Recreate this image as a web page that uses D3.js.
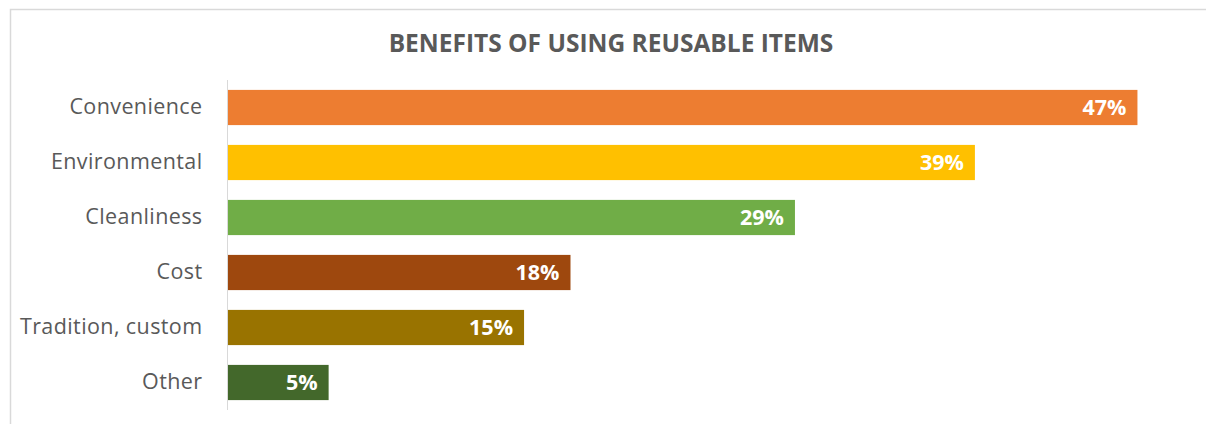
<!DOCTYPE html>
<html>
<head>
<meta charset="utf-8">
<script src="https://cdn.jsdelivr.net/npm/d3@7"></script>
<style>
  html, body { margin: 0; padding: 0; background: #fff; }
  svg { display: block; }
</style>
</head>
<body>
<svg id="chart" width="1206" height="424"></svg>
<script>
const title = "BENEFITS OF USING REUSABLE ITEMS";
const categories = ["Convenience", "Environmental", "Cleanliness", "Cost", "Tradition, custom", "Other"];
const values = [47.0, 38.6, 29.3, 17.7, 15.3, 5.2];
const colors = ["#ED7D31", "#FFC000", "#70AD47", "#9E480E", "#997300", "#43682B"];

const svg = d3.select("#chart");
const plot = { left: 228, right: 1195.5, top: 80, bottom: 410 };

// chart border
svg.append("rect")
  .attr("x", 10.5).attr("y", 9.5)
  .attr("width", 1220).attr("height", 440)
  .attr("fill", "#fff")
  .attr("stroke", "#D9D9D9").attr("stroke-width", 1.5);

const x = d3.scaleLinear().domain([0, 50]).range([plot.left, plot.right]);
const y = d3.scaleBand().domain(categories).range([plot.top, plot.bottom])
  .paddingInner(0.36).paddingOuter(0.18);

// title
svg.append("text")
  .attr("x", 611).attr("y", 52)
  .attr("text-anchor", "middle")
  .attr("font-family", "'Open Sans', sans-serif")
  .attr("font-weight", "bold")
  .attr("font-size", 24.5)
  .attr("fill", "#595959")
  .text(title);

// bars
const data = categories.map((c, i) => ({ c, v: values[i], col: colors[i] }));
svg.append("g").selectAll("rect").data(data).join("rect")
  .attr("x", x(0))
  .attr("y", d => y(d.c))
  .attr("width", d => x(d.v) - x(0))
  .attr("height", y.bandwidth())
  .attr("fill", d => d.col);

// value labels
svg.append("g").selectAll("text").data(data).join("text")
  .attr("x", d => x(d.v) - 11)
  .attr("y", d => y(d.c) + y.bandwidth() / 2)
  .attr("dy", "0.36em")
  .attr("text-anchor", "end")
  .attr("font-family", "'Open Sans', sans-serif")
  .attr("font-weight", "bold")
  .attr("font-size", 21.5)
  .attr("fill", "#fff")
  .text(d => Math.round(d.v) + "%");

// y axis
const yAxis = d3.axisLeft(y).tickSize(0).tickPadding(25);
const ag = svg.append("g")
  .attr("transform", `translate(${plot.left - 0.5},0)`)
  .call(yAxis);
ag.select(".domain").attr("stroke", "#D9D9D9").attr("d", `M0,${plot.top}V${plot.bottom}`);
ag.selectAll(".tick text")
  .attr("font-family", "'Open Sans', sans-serif")
  .attr("font-size", 21.5)
  .attr("letter-spacing", "0.4px")
  .attr("fill", "#595959");
</script>
</body>
</html>
